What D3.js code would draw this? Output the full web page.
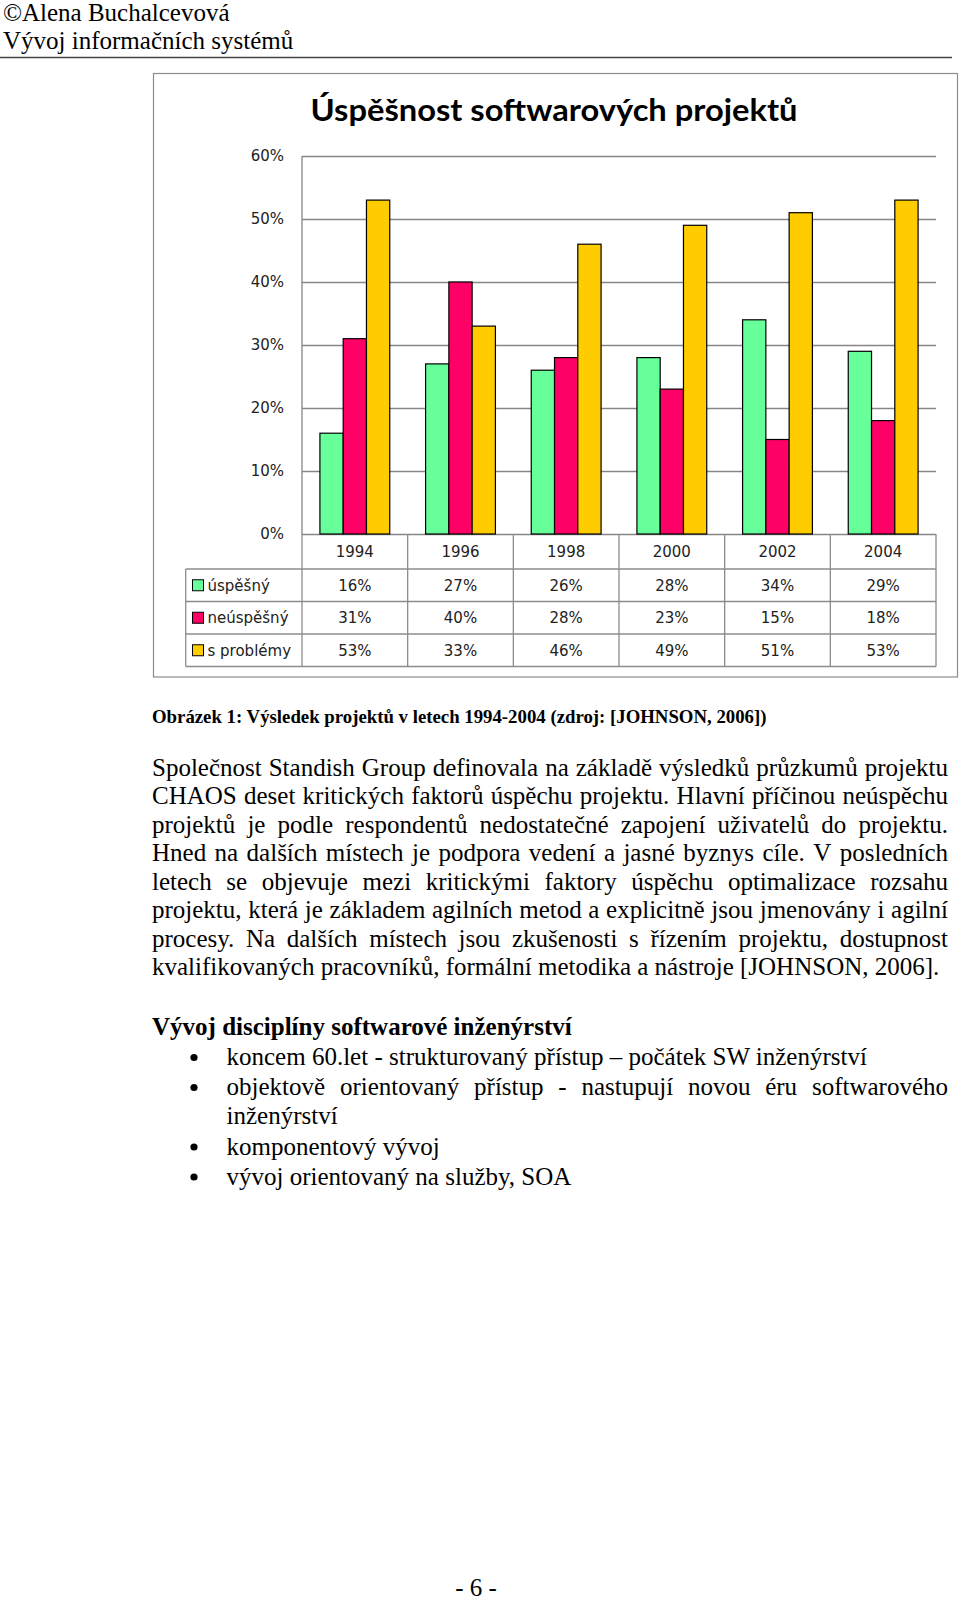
<!DOCTYPE html>
<html><head><meta charset="utf-8">
<script src="https://cdn.jsdelivr.net/npm/d3@7"></script>
<style>body{margin:0;background:#fff}svg{display:block}</style>
</head><body><svg id="c" width="960" height="1600"></svg>
<script>
// ---------- data ----------
const years = ["1994", "1996", "1998", "2000", "2002", "2004"];
const seriesNames = ["úspěšný", "neúspěšný", "s problémy"];
const uspesny = [16, 27, 26, 28, 34, 29];
const neuspesny = [31, 40, 28, 23, 15, 18];
const sProblemy = [53, 33, 46, 49, 51, 53];
const yTicks = [0, 10, 20, 30, 40, 50, 60];
const chartTitle = "Úspěšnost softwarových projektů";
const headerLines = ["©Alena Buchalcevová", "Vývoj informačních systémů"];
const captionText = "Obrázek 1: Výsledek projektů v letech 1994-2004 (zdroj: [JOHNSON, 2006])";
const paragraphLines = [
  "Společnost Standish Group definovala na základě výsledků průzkumů projektu",
  "CHAOS deset kritických faktorů úspěchu projektu. Hlavní příčinou neúspěchu",
  "projektů je podle respondentů nedostatečné zapojení uživatelů do projektu.",
  "Hned na dalších místech je podpora vedení a jasné byznys cíle. V posledních",
  "letech se objevuje mezi kritickými faktory úspěchu optimalizace rozsahu",
  "projektu, která je základem agilních metod a explicitně jsou jmenovány i agilní",
  "procesy. Na dalších místech jsou zkušenosti s řízením projektu, dostupnost",
  "kvalifikovaných pracovníků, formální metodika a nástroje [JOHNSON, 2006]."
];
const headingText = "Vývoj disciplíny softwarové inženýrství";
const bulletItems = [
  ["koncem 60.let - strukturovaný přístup – počátek SW inženýrství"],
  ["objektově orientovaný přístup - nastupují novou éru softwarového", "inženýrství"],
  ["komponentový vývoj"],
  ["vývoj orientovaný na služby, SOA"]
];
const pageNumber = "- 6 -";

const seriesValues = [uspesny, neuspesny, sProblemy];
const colors = ["#66FF99", "#FF0066", "#FFCC00"];

// ---------- page ----------
const svg = d3.select("#c");
svg.append("rect").attr("width", 960).attr("height", 1600).attr("fill", "#fff");
const serif = "'Liberation Serif', 'Times New Roman', serif";
const sans = "'DejaVu Sans', Verdana, sans-serif";
const bodySize = 25;

headerLines.forEach((t, i) => {
  svg.append("text").attr("x", 3).attr("y", [21, 49][i])
    .attr("font-family", serif).attr("font-size", bodySize).attr("fill", "#000").text(t);
});
svg.append("line").attr("x1", 0).attr("x2", 952).attr("y1", 57.5).attr("y2", 57.5)
  .attr("stroke", "#444").attr("stroke-width", 1.5);

// ---------- chart ----------
svg.append("rect").attr("x", 153.5).attr("y", 73.5).attr("width", 804).attr("height", 603.5)
  .attr("fill", "#fff").attr("stroke", "#8c8c8c").attr("stroke-width", 1.2);

svg.append("text").attr("x", 554).attr("y", 121).attr("text-anchor", "middle")
  .attr("font-family", "Lato, 'Open Sans', sans-serif").attr("font-weight", 700)
  .attr("font-size", 31).attr("textLength", 487).attr("lengthAdjust", "spacingAndGlyphs")
  .attr("fill", "#000").text(chartTitle);

const plotL = 302, plotR = 936, plotT = 156, plotB = 534;
const y = d3.scaleLinear().domain([0, 60]).range([plotB, plotT]);
const x0 = d3.scaleBand().domain(years).range([plotL, plotR]).padding(0);
const x1 = d3.scaleBand().domain(seriesNames).range([0, x0.bandwidth()])
  .paddingInner(0).paddingOuter(0.77);

const yAxis = svg.append("g").attr("transform", `translate(${plotL},0)`)
  .call(d3.axisLeft(y).tickValues(yTicks).tickFormat(d => d + "%")
    .tickSize(-(plotR - plotL)).tickPadding(18));
yAxis.select(".domain").remove();
yAxis.selectAll(".tick line").attr("stroke", "#868686").attr("stroke-width", 1.3);
yAxis.selectAll(".tick text").attr("font-family", sans).attr("font-size", 15)
  .attr("fill", "#222");
svg.append("line").attr("x1", plotL).attr("x2", plotL).attr("y1", plotT).attr("y2", plotB)
  .attr("stroke", "#868686").attr("stroke-width", 1.3);

seriesValues.forEach((vals, s) => {
  svg.append("g").selectAll("rect").data(vals).join("rect")
    .attr("x", (d, i) => x0(years[i]) + x1(seriesNames[s]))
    .attr("y", d => y(d))
    .attr("width", x1.bandwidth())
    .attr("height", d => y(0) - y(d))
    .attr("fill", colors[s]).attr("stroke", "#000").attr("stroke-width", 1.2);
});

// data table
const tableL = 185.7;
const rowEdges = [534, 569, 601.5, 634, 666.5];
const tg = svg.append("g").attr("stroke", "#8c8c8c").attr("stroke-width", 1.3);
rowEdges.slice(1).forEach(r => {
  tg.append("line").attr("x1", tableL).attr("x2", plotR).attr("y1", r).attr("y2", r);
});
tg.append("line").attr("x1", tableL).attr("x2", tableL).attr("y1", rowEdges[1]).attr("y2", rowEdges[4]);
years.concat(["end"]).forEach((yr, i) => {
  const xx = i < years.length ? x0(yr) : plotR;
  tg.append("line").attr("x1", xx).attr("x2", xx).attr("y1", rowEdges[0]).attr("y2", rowEdges[4]);
});

svg.append("g").selectAll("text").data(years).join("text")
  .attr("x", d => x0(d) + x0.bandwidth() / 2)
  .attr("y", (rowEdges[0] + rowEdges[1]) / 2).attr("dy", "0.36em")
  .attr("text-anchor", "middle").attr("font-family", sans).attr("font-size", 15)
  .attr("fill", "#222").text(d => d);

seriesValues.forEach((vals, s) => {
  const cy = (rowEdges[s + 1] + rowEdges[s + 2]) / 2;
  svg.append("rect").attr("x", 192.5).attr("y", cy - 5.5).attr("width", 11).attr("height", 11)
    .attr("fill", colors[s]).attr("stroke", "#000").attr("stroke-width", 1);
  svg.append("text").attr("x", 207.5).attr("y", cy).attr("dy", "0.36em")
    .attr("font-family", sans).attr("font-size", 15).attr("fill", "#222").text(seriesNames[s]);
  svg.append("g").selectAll("text").data(vals).join("text")
    .attr("x", (d, i) => x0(years[i]) + x0.bandwidth() / 2)
    .attr("y", cy).attr("dy", "0.36em").attr("text-anchor", "middle")
    .attr("font-family", sans).attr("font-size", 15).attr("fill", "#222").text(d => d + "%");
});

// ---------- text body ----------
function justified(txt, x, yy, width, opts) {
  const t = svg.append("text").attr("y", yy).attr("font-family", serif)
    .attr("font-size", opts.size).attr("font-weight", opts.weight || 400).attr("fill", "#000");
  if (!opts.justify) {
    t.attr("x", x).text(txt);
    return;
  }
  const words = txt.split(" ");
  const spans = words.map(w => t.append("tspan").text(w));
  const widths = spans.map(s => s.node().getComputedTextLength());
  const total = d3.sum(widths);
  const gap = words.length > 1 ? (width - total) / (words.length - 1) : 0;
  let cx = x;
  spans.forEach((s, i) => { s.attr("x", cx); cx += widths[i] + gap; });
}

justified(captionText, 152, 723, 0, {size: 18.8, weight: 700, justify: false});

const pTop = 775.5, pStep = 28.57;
paragraphLines.forEach((ln, i) => {
  justified(ln, 152, pTop + i * pStep, 796, {size: bodySize, justify: i < paragraphLines.length - 1});
});

justified(headingText, 152, 1034.5, 0, {size: bodySize, weight: 700, justify: false});

const bulletBase = [1065, 1095, 1154.5, 1184.5];
bulletItems.forEach((item, i) => {
  svg.append("circle").attr("cx", 194).attr("cy", bulletBase[i] - 7.5).attr("r", 3.6).attr("fill", "#000");
  item.forEach((ln, j) => {
    justified(ln, 226.5, bulletBase[i] + j * 29, 721.5, {size: bodySize, justify: j < item.length - 1});
  });
});

svg.append("text").attr("x", 476).attr("y", 1596).attr("text-anchor", "middle")
  .attr("font-family", serif).attr("font-size", bodySize).attr("fill", "#000").text(pageNumber);
</script></body></html>
